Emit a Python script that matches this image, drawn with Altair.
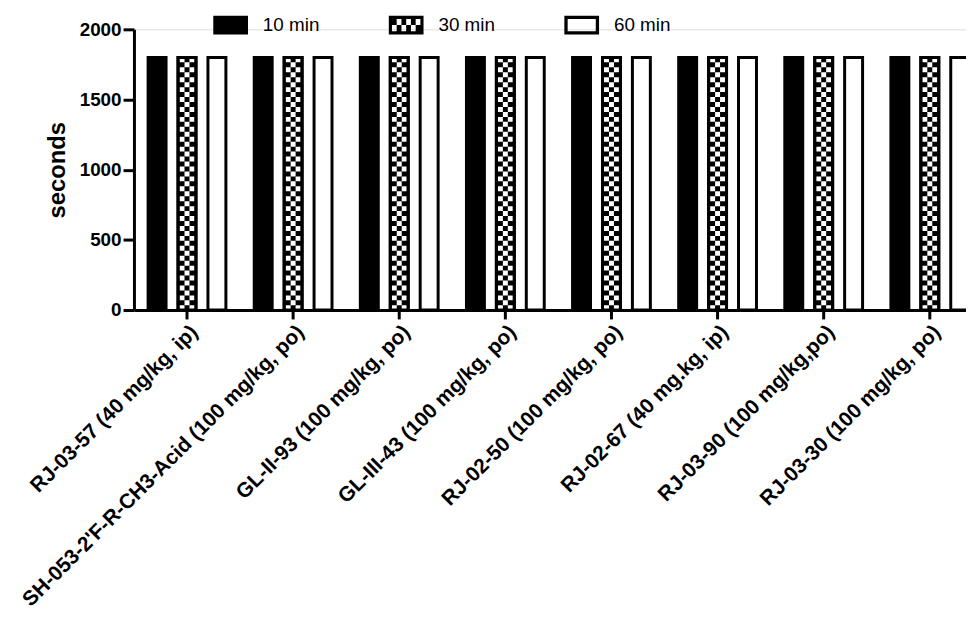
import altair as alt
import pandas as pd

categories = [
    "RJ-03-57 (40 mg/kg, ip)",
    "SH-053-2'F-R-CH3-Acid (100 mg/kg, po)",
    "GL-II-93 (100 mg/kg, po)",
    "GL-III-43 (100 mg/kg, po)",
    "RJ-02-50 (100 mg/kg, po)",
    "RJ-02-67 (40 mg.kg, ip)",
    "RJ-03-90 (100 mg/kg,po)",
    "RJ-03-30 (100 mg/kg, po)",
]
series = ["10 min", "30 min", "60 min"]
values_10 = [1800, 1800, 1800, 1800, 1800, 1800, 1800, 1800]
values_30 = [1800, 1800, 1800, 1800, 1800, 1800, 1800, 1800]
values_60 = [1800, 1800, 1800, 1800, 1800, 1800, 1800, 1800]
y_ticks = [0, 500, 1000, 1500, 2000]

rows = []
for s, vals in zip(series, [values_10, values_30, values_60]):
    for c, v in zip(categories, vals):
        rows.append({"compound": c, "time": s, "seconds": v})
df = pd.DataFrame(rows)

FONT = "Liberation Sans"

# legend symbol paths (unit square -1..1)
p_solid = "M-1,-0.54H1V0.54H-1Z"
p_open = "M-1,-0.54H1V0.54H-1Z M-0.81,-0.35V0.35H0.81V-0.35Z"
cols = [-0.82, -0.547, -0.273, 0.0, 0.273, 0.547, 0.82]
holes = []
for r, (y0, y1) in enumerate([(-0.35, 0.0), (0.0, 0.35)]):
    for ci in range(6):
        if (ci + r) % 2 == 1:
            x0, x1 = cols[ci], cols[ci + 1]
            holes.append(f"M{x0},{y0}V{y1}H{x1}V{y0}Z")
p_check = "M-1,-0.54H1V0.54H-1Z " + " ".join(holes)

x_enc = alt.X(
    "compound:N",
    sort=categories,
    scale=alt.Scale(range=[0, 856], paddingInner=0.25, paddingOuter=0.125),
    axis=alt.Axis(
        title=None,
        labelAngle=-45,
        labelFont=FONT,
        labelFontSize=21,
        labelFontWeight="bold",
        labelColor="black",
        labelLimit=1000,
        domainColor="black",
        domainWidth=3,
        tickColor="black",
        tickWidth=3,
        tickSize=9,
        labelPadding=2,
    ),
)
xoff = alt.XOffset(
    "time:N", sort=series, scale=alt.Scale(paddingInner=0.4, paddingOuter=0.03)
)
y_enc = alt.Y(
    "seconds:Q",
    scale=alt.Scale(domain=[0, 2000], nice=False),
    axis=alt.Axis(
        values=y_ticks,
        format="d",
        title="seconds",
        titleFont=FONT,
        titleFontSize=24,
        titleFontWeight="bold",
        titleColor="black",
        titlePadding=10,
        labelFont=FONT,
        labelFontSize=19,
        labelFontWeight="bold",
        labelColor="black",
        labelPadding=2,
        domainColor="black",
        domainWidth=3,
        tickColor="black",
        tickWidth=3,
        tickSize=11,
        grid=False,
    ),
)

base = alt.Chart(df)

bars = base.mark_bar(stroke="black", strokeWidth=3).encode(
    x=x_enc,
    xOffset=xoff,
    y=y_enc,
    fill=alt.condition(
        alt.datum.time == "60 min", alt.value("white"), alt.value("black")
    ),
)

check = base.transform_filter(alt.datum.time == "30 min")


def check_rule(width, color, dash, off):
    props = dict(color=color, strokeWidth=width, strokeCap="butt")
    if dash:
        props.update(strokeDash=[5, 5], strokeDashOffset=off)
    return check.mark_rule(**props).encode(
        x=x_enc, xOffset=xoff, y=y_enc, y2=alt.datum(0)
    )


outline = check.mark_bar(fillOpacity=0, stroke="black", strokeWidth=3).encode(
    x=x_enc, xOffset=xoff, y=y_enc
)

legend_pts = base.mark_point(filled=True, size=0, color="black").encode(
    x=x_enc,
    xOffset=xoff,
    y=y_enc,
    shape=alt.Shape(
        "time:N",
        sort=series,
        scale=alt.Scale(domain=series, range=[p_solid, p_check, p_open]),
        legend=alt.Legend(
            title=None,
            orient="none",
            legendX=80,
            legendY=-22,
            direction="horizontal",
            labelFont=FONT,
            labelFontSize=19,
            labelColor="black",
            labelOffset=15,
            symbolSize=1225,
            symbolFillColor="black",
            symbolStrokeWidth=0,
            symbolOpacity=1,
            columnPadding=69,
            padding=0,
        ),
    ),
)

chart = (
    alt.layer(
        bars,
        check_rule(15, "white", True, 0),
        check_rule(5.0, "black", False, 0),
        check_rule(5.0, "white", True, 5),
        outline,
        legend_pts,
    )
    .properties(
        width=839,
        height=283,
        autosize=alt.AutoSizeParams(type="none"),
        padding={"left": 127, "top": 19, "right": 0, "bottom": 300},
    )
    .configure_view(stroke=None)
    .configure(background="white")
)

chart.save("out.html", embed_options={"renderer": "svg", "actions": False})
